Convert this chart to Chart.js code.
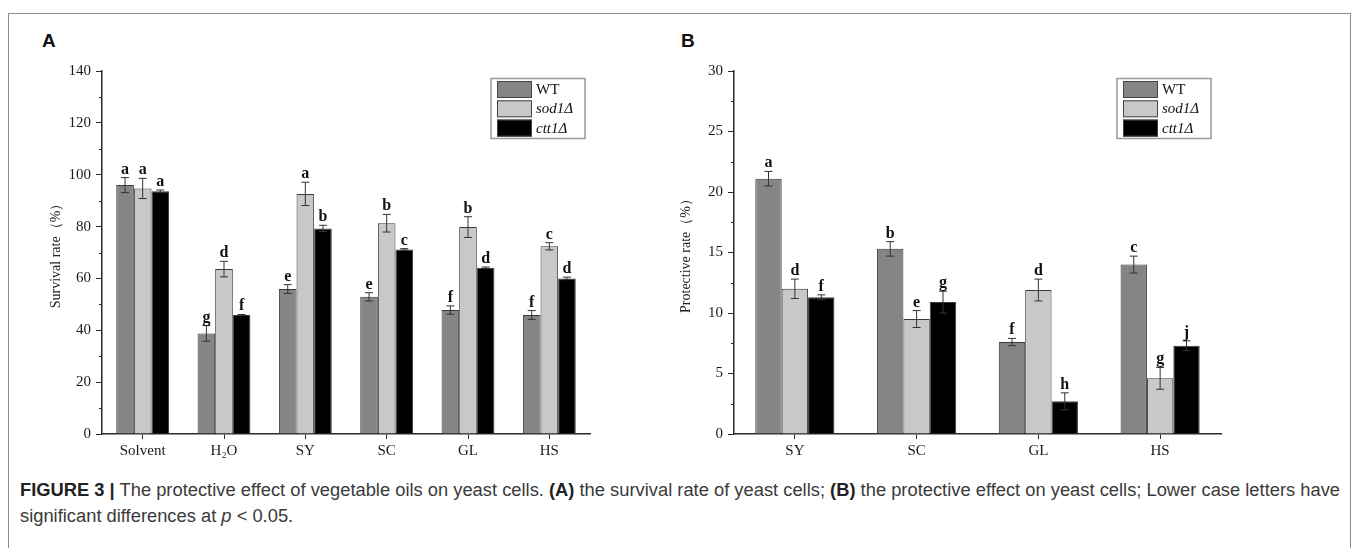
<!DOCTYPE html>
<html>
<head>
<meta charset="utf-8">
<script src="https://cdn.jsdelivr.net/npm/chart.js@4.4.0/dist/chart.umd.min.js"></script>
<style>
  html, body { margin: 0; padding: 0; background: #fff; }
  body { width: 1357px; height: 548px; position: relative; overflow: hidden; }
  .frame { position: absolute; left: 8px; top: 13px; width: 1341px; height: 560px; border: 1px solid #8c8c8c; }
  .panel { position: absolute; font-family: "Liberation Sans", Arial, sans-serif; font-weight: bold; font-size: 19px; color: #111; line-height: 1; }
  .box { position: absolute; width: 570px; height: 430px; }
  .caption { position: absolute; left: 20px; top: 477px; font-family: "Liberation Sans", Arial, sans-serif; font-size: 18px; line-height: 26px; color: #3a3a3a; white-space: nowrap; transform-origin: 0 0; }
  .caption b { color: #222; }
</style>
</head>
<body>
<div class="frame"></div>
<div class="panel" style="left:42px; top:31px;">A</div>
<div class="panel" style="left:681px; top:31px;">B</div>
<div class="box" style="left:42px; top:40px;"><canvas id="chartA"></canvas></div>
<div class="box" style="left:675px; top:40px;"><canvas id="chartB"></canvas></div>
<div class="caption" id="caption"><b>FIGURE 3 |</b> The protective effect of vegetable oils on yeast cells. <b>(A)</b> the survival rate of yeast cells; <b>(B)</b> the protective effect on yeast cells; Lower case letters have<br>significant differences at <i>p</i> &lt; 0.05.</div>

<script>
// panel A: survival rate (%)
const categoriesA = ['Solvent', 'H₂O', 'SY', 'SC', 'GL', 'HS'];
const wtA = [96.0, 38.8, 55.9, 52.9, 47.8, 45.9];
const sodA = [94.7, 63.6, 92.6, 81.3, 79.8, 72.4];
const cttA = [93.6, 45.9, 79.3, 71.2, 64.1, 60.0];
const wtErrA = [2.9, 3.0, 1.7, 1.6, 1.6, 1.7];
const sodErrA = [3.9, 3.0, 4.5, 3.4, 4.0, 1.4];
const cttErrA = [0.5, 0.2, 1.2, 0.3, 0.3, 0.5];
const wtLetA = ['a', 'g', 'e', 'e', 'f', 'f'];
const sodLetA = ['a', 'd', 'a', 'b', 'b', 'c'];
const cttLetA = ['a', 'f', 'b', 'c', 'd', 'd'];
const ticksA = [0, 20, 40, 60, 80, 100, 120, 140];

// panel B: protective rate (%)
const categoriesB = ['SY', 'SC', 'GL', 'HS'];
const wtB = [21.1, 15.3, 7.6, 14.0];
const sodB = [12.0, 9.5, 11.9, 4.6];
const cttB = [11.3, 10.9, 2.7, 7.3];
const wtErrB = [0.6, 0.6, 0.3, 0.7];
const sodErrB = [0.8, 0.7, 0.9, 0.9];
const cttErrB = [0.2, 0.9, 0.7, 0.4];
const wtLetB = ['a', 'b', 'f', 'c'];
const sodLetB = ['d', 'e', 'd', 'g'];
const cttLetB = ['f', 'g', 'h', 'j'];
const ticksB = [0, 5, 10, 15, 20, 25, 30];

const seriesNames = ['WT', 'sod1Δ', 'ctt1Δ'];

const SERIF = '"Liberation Serif", "Times New Roman", serif';
const INK = '#2a2a2a';

// caption line 1 should run to ~1340px like the original
const cap = document.getElementById('caption');
const capW = cap.getBoundingClientRect().width;
if (capW > 0) cap.style.transform = 'scaleX(' + (1320 / capW) + ')';

// error bars, letters, minor ticks and boxed legend
const extras = {
    id: 'extras',
    afterDatasetsDraw(chart, args, opts) {
        const ctx = chart.ctx;
        const y = chart.scales.y;
        ctx.save();
        chart.data.datasets.forEach((ds, i) => {
            const meta = chart.getDatasetMeta(i);
            meta.data.forEach((bar, j) => {
                const v = ds.data[j], e = ds.errors[j];
                const top = y.getPixelForValue(v + e);
                const bot = y.getPixelForValue(v - e);
                ctx.strokeStyle = '#333';
                ctx.lineWidth = 1;
                ctx.beginPath();
                ctx.moveTo(bar.x, top); ctx.lineTo(bar.x, bot);
                ctx.moveTo(bar.x - 4, top); ctx.lineTo(bar.x + 4, top);
                ctx.moveTo(bar.x - 4, bot); ctx.lineTo(bar.x + 4, bot);
                ctx.stroke();
                ctx.fillStyle = '#111';
                ctx.font = 'bold 16px ' + SERIF;
                ctx.textAlign = 'center';
                ctx.textBaseline = 'alphabetic';
                ctx.fillText(ds.letters[j], bar.x, top - 4);
            });
        });
        ctx.restore();
    },
    afterDraw(chart, args, opts) {
        const ctx = chart.ctx;
        const y = chart.scales.y;
        const area = chart.chartArea;
        ctx.save();
        // minor ticks
        ctx.strokeStyle = INK;
        ctx.lineWidth = 1;
        ctx.beginPath();
        y.ticks.forEach(t => {
            if (opts.major.indexOf(t.value) === -1) {
                const py = Math.round(y.getPixelForValue(t.value)) + 0.5;
                ctx.moveTo(area.left - 3, py); ctx.lineTo(area.left, py);
            }
        });
        ctx.stroke();
        // legend box
        const bw = 94, bh = 60;
        const bx = area.right - opts.legendRight - bw;
        const by = area.top + opts.legendTop;
        ctx.strokeStyle = '#999';
        ctx.lineWidth = 1.5;
        ctx.strokeRect(bx, by, bw, bh);
        chart.data.datasets.forEach((ds, i) => {
            const sy = by + 2.5 + i * 19.3;
            ctx.fillStyle = ds.backgroundColor;
            ctx.fillRect(bx + 6, sy, 35, 17);
            ctx.strokeStyle = '#444';
            ctx.lineWidth = 1;
            ctx.strokeRect(bx + 6.5, sy + 0.5, 34, 16);
            ctx.fillStyle = '#111';
            ctx.font = (i === 0 ? '' : 'italic ') + '15px ' + SERIF;
            ctx.textAlign = 'left';
            ctx.textBaseline = 'middle';
            ctx.fillText(ds.label, bx + 45, sy + 9);
        });
        ctx.restore();
    }
};

function makeChart(id, cats, vals, errs, lets, max, step, major, title, axisW, padLeft, padRight, legendRight) {
    const colors = ['#858585', '#c8c8c8', '#000000'];
    return new Chart(document.getElementById(id), {
        type: 'bar',
        data: {
            labels: cats,
            datasets: vals.map((v, i) => ({
                label: seriesNames[i],
                data: v,
                errors: errs[i],
                letters: lets[i],
                backgroundColor: colors[i],
                borderColor: '#3a3a3a',
                borderWidth: 1,
                categoryPercentage: 0.65,
                barPercentage: 1
            }))
        },
        options: {
            animation: false,
            responsive: true,
            maintainAspectRatio: false,
            layout: { padding: { top: 31, right: padRight, left: padLeft, bottom: 0 } },
            plugins: {
                legend: { display: false },
                tooltip: { enabled: false },
                extras: { major: major, legendRight: legendRight, legendTop: 7.5 }
            },
            scales: {
                x: {
                    grid: { display: true, drawOnChartArea: false, offset: false, tickLength: 5, color: INK, lineWidth: 1 },
                    border: { display: true, color: INK, width: 1.5 },
                    ticks: { color: '#1a1a1a', font: { family: SERIF, size: 15 }, padding: 3 },
                    afterFit(s) { s.height = 36; }
                },
                y: {
                    min: 0,
                    max: max,
                    grid: {
                        display: true, drawOnChartArea: false, tickLength: 6, lineWidth: 1,
                        tickColor: c => major.indexOf(c.tick.value) === -1 ? 'rgba(0,0,0,0)' : INK
                    },
                    border: { display: true, color: INK, width: 1.5 },
                    ticks: {
                        stepSize: step,
                        autoSkip: false,
                        padding: 5,
                        color: '#1a1a1a',
                        font: { family: SERIF, size: 15 },
                        callback: v => major.indexOf(v) === -1 ? '' : v
                    },
                    title: { display: true, text: title, color: '#222', padding: 0, font: { family: SERIF, size: 14 } },
                    afterFit(s) { s.width = axisW; }
                }
            }
        },
        plugins: [extras]
    });
}

makeChart('chartA', categoriesA, [wtA, sodA, cttA], [wtErrA, sodErrA, cttErrA], [wtLetA, sodLetA, cttLetA],
    140, 10, ticksA, 'Survival rate（%）', 54, 6, 22, 5);
makeChart('chartB', categoriesB, [wtB, sodB, cttB], [wtErrB, sodErrB, cttErrB], [wtLetB, sodLetB, cttLetB],
    30, 2.5, ticksB, 'Protective rate（%）', 56, 3, 24, 10);
</script>
</body>
</html>
